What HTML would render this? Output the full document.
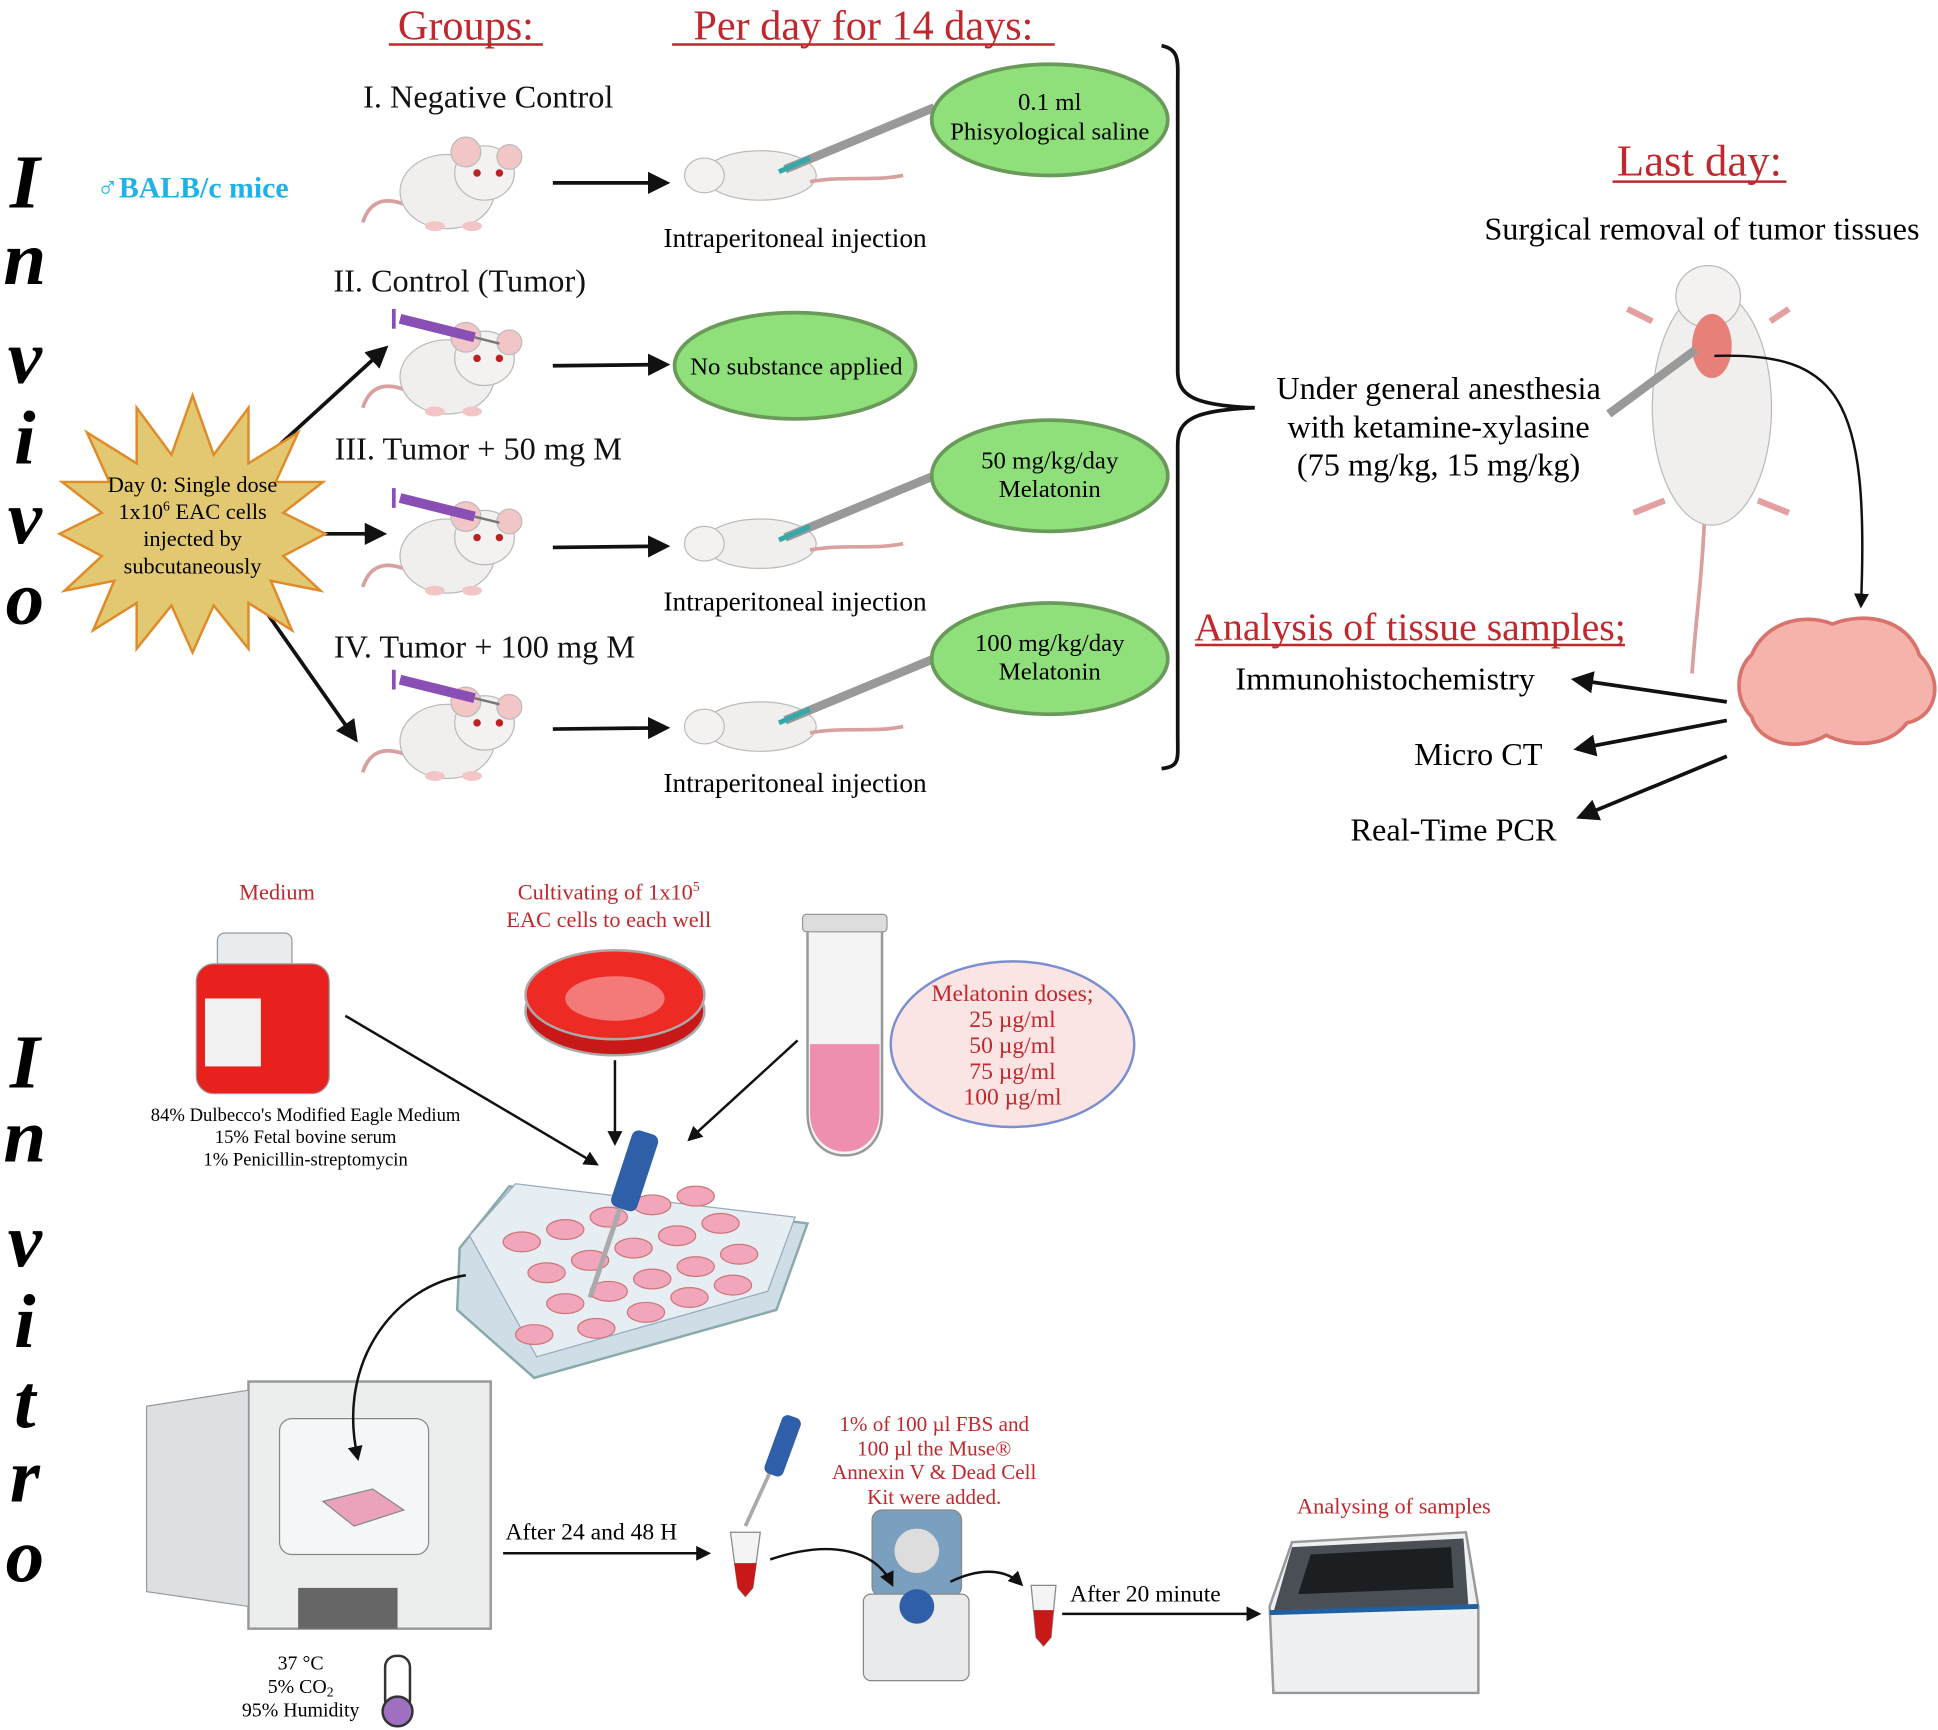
<!DOCTYPE html>
<html><head><meta charset="utf-8"><style>
html,body{margin:0;padding:0;background:#fff;}
svg{display:block;}
text{font-family:"Liberation Serif",serif;}
</style></head><body>
<svg width="1938" height="1730" viewBox="0 0 1560 1400" preserveAspectRatio="none" xmlns="http://www.w3.org/2000/svg">
<defs>
<marker id="ah" viewBox="0 0 10 10" refX="8" refY="5" markerWidth="6" markerHeight="6" orient="auto"><path d="M0,0 L10,5 L0,10 z" fill="#111"/></marker>
<g id="mouse">
<path d="M-68,35 C-60,10 -40,18 -30,22" stroke="#d9a0a0" stroke-width="3" fill="none"/>
<ellipse cx="0" cy="10" rx="38" ry="30" fill="#f1eeee" stroke="#bbb"/>
<ellipse cx="30" cy="-5" rx="24" ry="22" fill="#f4f1f1" stroke="#bbb"/>
<circle cx="15" cy="-22" r="12" fill="#f2c6c6" stroke="#bbb"/>
<circle cx="50" cy="-18" r="10" fill="#f2c6c6" stroke="#bbb"/>
<circle cx="24" cy="-5" r="3" fill="#b22"/><circle cx="42" cy="-5" r="3" fill="#b22"/>
<ellipse cx="-10" cy="38" rx="8" ry="4" fill="#f2c6c6"/><ellipse cx="20" cy="38" rx="8" ry="4" fill="#f2c6c6"/>
</g>
<g id="lying">
<ellipse cx="0" cy="0" rx="45" ry="20" fill="#f1eeee" stroke="#bbb"/>
<ellipse cx="-45" cy="0" rx="16" ry="14" fill="#f4f1f1" stroke="#bbb"/>
<path d="M40,5 C70,0 90,5 115,0" stroke="#d9a0a0" stroke-width="3" fill="none"/>
<line x1="20" y1="-5" x2="140" y2="-55" stroke="#999" stroke-width="7"/>
<line x1="15" y1="-3" x2="40" y2="-14" stroke="#3aa" stroke-width="4"/>
</g>
<g id="syr">
<line x1="0" y1="0" x2="60" y2="15" stroke="#8a4fb5" stroke-width="8"/>
<line x1="-5" y1="-8" x2="-5" y2="8" stroke="#8a4fb5" stroke-width="3"/>
<line x1="60" y1="15" x2="80" y2="20" stroke="#777" stroke-width="2"/>
</g>
</defs>

<text x="375" y="32" font-size="34" fill="#c0282d" text-anchor="middle">Groups:</text>
<line x1="313" y1="36" x2="437" y2="36" stroke="#c0282d" stroke-width="2"/>
<text x="695" y="32" font-size="34" fill="#c0282d" text-anchor="middle">Per day for 14 days:</text>
<line x1="541" y1="36" x2="849" y2="36" stroke="#c0282d" stroke-width="2"/>

<g font-size="62" font-weight="bold" font-style="italic" text-anchor="middle">
<text x="20" y="168">I</text><text x="20" y="230">n</text><text x="20" y="310">v</text><text x="20" y="375">i</text><text x="20" y="440">v</text><text x="20" y="505">o</text>
<text x="20" y="880">I</text><text x="20" y="940">n</text><text x="20" y="1025">v</text><text x="20" y="1090">i</text><text x="20" y="1155">t</text><text x="20" y="1215">r</text><text x="20" y="1280">o</text>
</g>
<text x="155" y="160" font-size="24" font-weight="bold" fill="#1fb2e8" text-anchor="middle">♂BALB/c mice</text>

<g font-size="26" text-anchor="middle" fill="#111">
<text x="393" y="87">I. Negative Control</text>
<text x="370" y="236">II. Control (Tumor)</text>
<text x="385" y="372">III. Tumor + 50 mg M</text>
<text x="390" y="532">IV. Tumor + 100 mg M</text>
</g>

<use href="#mouse" x="360" y="145"/>
<use href="#mouse" x="360" y="295"/>
<use href="#mouse" x="360" y="440"/>
<use href="#mouse" x="360" y="590"/>
<use href="#syr" x="322" y="258"/>
<use href="#syr" x="322" y="403"/>
<use href="#syr" x="322" y="550"/>

<g stroke="#111" stroke-width="3" marker-end="url(#ah)">
<line x1="445" y1="148" x2="536" y2="148"/>
<line x1="445" y1="296" x2="536" y2="295"/>
<line x1="445" y1="443" x2="536" y2="442"/>
<line x1="445" y1="590" x2="536" y2="589"/>
<line x1="225" y1="360" x2="310" y2="282"/>
<line x1="240" y1="432" x2="308" y2="432"/>
<line x1="212" y1="492" x2="286" y2="598"/>
</g>

<use href="#lying" x="612" y="142"/>
<use href="#lying" x="612" y="440"/>
<use href="#lying" x="612" y="588"/>

<g font-size="22" text-anchor="middle">
<text x="640" y="200">Intraperitoneal injection</text>
<text x="640" y="494">Intraperitoneal injection</text>
<text x="640" y="641">Intraperitoneal injection</text>
</g>

<g fill="#8fe07a" stroke="#6a9a5a" stroke-width="3">
<ellipse cx="845" cy="97" rx="95" ry="45"/>
<ellipse cx="640" cy="296" rx="97" ry="43"/>
<ellipse cx="845" cy="385" rx="95" ry="45"/>
<ellipse cx="845" cy="533" rx="95" ry="45"/>
</g>
<g font-size="20" text-anchor="middle">
<text x="845" y="89">0.1 ml</text><text x="845" y="113">Phisyological saline</text>
<text x="641" y="303">No substance applied</text>
<text x="845" y="379">50 mg/kg/day</text><text x="845" y="402">Melatonin</text>
<text x="845" y="527">100 mg/kg/day</text><text x="845" y="550">Melatonin</text>
</g>

<polygon fill="#e2c870" stroke="#e08a2a" stroke-width="2" points="
155,320 172,368 200,330 200,375 240,350 222,390 260,390 228,415 262,432 228,450 258,478 218,470 235,510 200,488 200,525 172,490 155,528 138,490 110,525 110,488 75,510 92,470 52,478 82,450 48,432 82,415 50,390 88,390 70,350 110,375 110,330 138,368"/>
<g font-size="18" text-anchor="middle">
<text x="155" y="398">Day 0: Single dose</text>
<text x="155" y="420">1x10<tspan font-size="11" dy="-7">6</tspan><tspan dy="7"> EAC cells</tspan></text>
<text x="155" y="442">injected by</text>
<text x="155" y="464">subcutaneously</text>
</g>

<path d="M935,37 C950,40 948,50 948,70 L948,300 C948,320 960,328 1010,330 C960,332 948,340 948,360 L948,595 C948,615 950,620 935,622" stroke="#111" stroke-width="3" fill="none"/>

<text x="1368" y="142" font-size="36" fill="#c0282d" text-anchor="middle">Last day:</text>
<line x1="1298" y1="147" x2="1438" y2="147" stroke="#c0282d" stroke-width="2"/>
<g font-size="26" text-anchor="middle">
<text x="1370" y="194">Surgical removal of tumor tissues</text>
<text x="1158" y="323">Under general anesthesia</text>
<text x="1158" y="354">with ketamine-xylasine</text>
<text x="1158" y="385">(75 mg/kg, 15 mg/kg)</text>
</g>

<path d="M1372,420 C1370,470 1365,500 1362,545" stroke="#d9a0a0" stroke-width="3" fill="none"/>
<ellipse cx="1378" cy="330" rx="48" ry="95" fill="#f1eeee" stroke="#bbb"/>
<ellipse cx="1375" cy="240" rx="26" ry="25" fill="#f4f1f1" stroke="#bbb"/>
<ellipse cx="1378" cy="280" rx="16" ry="26" fill="#e8807a"/>
<path d="M1330,260 L1310,250 M1425,260 L1440,250 M1340,405 L1315,415 M1415,405 L1440,415" stroke="#e4a0a0" stroke-width="5"/>
<line x1="1295" y1="335" x2="1365" y2="283" stroke="#999" stroke-width="7"/>
<path d="M1380,288 C1480,285 1505,320 1498,490" stroke="#111" stroke-width="2" fill="none" marker-end="url(#ah)"/>

<path d="M1410,530 C1420,505 1450,495 1475,505 C1500,495 1535,500 1545,530 C1565,550 1560,580 1535,585 C1520,605 1490,605 1470,595 C1445,610 1415,600 1410,580 C1395,565 1398,540 1410,530 Z" fill="#f5b3ac" stroke="#d9746c" stroke-width="3"/>

<text x="1135" y="518" font-size="32" fill="#c0282d" text-anchor="middle">Analysis of tissue samples;</text>
<line x1="962" y1="522" x2="1308" y2="522" stroke="#c0282d" stroke-width="2"/>
<g font-size="26" text-anchor="middle">
<text x="1115" y="558">Immunohistochemistry</text>
<text x="1190" y="619">Micro CT</text>
<text x="1170" y="680">Real-Time PCR</text>
</g>
<g stroke="#111" stroke-width="3" marker-end="url(#ah)">
<line x1="1390" y1="568" x2="1268" y2="550"/>
<line x1="1390" y1="583" x2="1270" y2="606"/>
<line x1="1390" y1="612" x2="1272" y2="661"/>
</g>

<g fill="#c0282d" font-size="18" text-anchor="middle">
<text x="223" y="728">Medium</text>
<text x="490" y="728">Cultivating of 1x10<tspan font-size="11" dy="-7">5</tspan></text>
<text x="490" y="750">EAC cells to each well</text>
<text x="1122" y="1225">Analysing of samples</text>
</g>
<rect x="175" y="755" width="60" height="30" rx="6" fill="#e8ecef" stroke="#999"/>
<rect x="158" y="780" width="107" height="105" rx="14" fill="#e8201e" stroke="#999"/>
<rect x="165" y="808" width="45" height="55" fill="#f2f2f2"/>
<g font-size="15" text-anchor="middle">
<text x="246" y="907">84% Dulbecco's Modified Eagle Medium</text>
<text x="246" y="925">15% Fetal bovine serum</text>
<text x="246" y="943">1% Penicillin-streptomycin</text>
</g>
<ellipse cx="495" cy="818" rx="72" ry="36" fill="#c81818" stroke="#aaa" stroke-width="2"/>
<ellipse cx="495" cy="805" rx="72" ry="36" fill="#ee2a24" stroke="#aaa" stroke-width="2"/>
<ellipse cx="495" cy="808" rx="40" ry="18" fill="#f47a7a"/>
<path d="M650,750 L710,750 L710,900 C710,925 695,935 680,935 C665,935 650,925 650,900 Z" fill="#f4f4f4" stroke="#999" stroke-width="2"/>
<path d="M652,845 L708,845 L708,900 C708,920 695,932 680,932 C665,932 652,920 652,900 Z" fill="#ee8fb0"/>
<rect x="646" y="740" width="68" height="14" rx="3" fill="#ddd" stroke="#999"/>
<ellipse cx="815" cy="845" rx="98" ry="67" fill="#fbe4e4" stroke="#7b8fd0" stroke-width="2"/>
<g fill="#c0282d" font-size="19" text-anchor="middle">
<text x="815" y="810">Melatonin doses;</text>
<text x="815" y="831">25 µg/ml</text>
<text x="815" y="852">50 µg/ml</text>
<text x="815" y="873">75 µg/ml</text>
<text x="815" y="894">100 µg/ml</text>
</g>
<g stroke="#111" stroke-width="2" marker-end="url(#ah)">
<line x1="278" y1="822" x2="480" y2="942"/>
<line x1="495" y1="858" x2="495" y2="925"/>
<line x1="642" y1="842" x2="555" y2="922"/>
</g>
<polygon points="370,1010 410,960 650,990 625,1060 430,1115 368,1060" fill="#cfdde6" stroke="#8aa" stroke-width="2"/>
<polygon points="378,1000 415,958 640,985 618,1045 432,1098" fill="#e6eef3" stroke="#9ab"/>
<g fill="#f2a6bb" stroke="#c77">
<ellipse cx="420" cy="1005" rx="15" ry="8"/><ellipse cx="455" cy="995" rx="15" ry="8"/><ellipse cx="490" cy="985" rx="15" ry="8"/><ellipse cx="525" cy="975" rx="15" ry="8"/><ellipse cx="560" cy="968" rx="15" ry="8"/>
<ellipse cx="440" cy="1030" rx="15" ry="8"/><ellipse cx="475" cy="1020" rx="15" ry="8"/><ellipse cx="510" cy="1010" rx="15" ry="8"/><ellipse cx="545" cy="1000" rx="15" ry="8"/><ellipse cx="580" cy="990" rx="15" ry="8"/>
<ellipse cx="455" cy="1055" rx="15" ry="8"/><ellipse cx="490" cy="1045" rx="15" ry="8"/><ellipse cx="525" cy="1035" rx="15" ry="8"/><ellipse cx="560" cy="1025" rx="15" ry="8"/><ellipse cx="595" cy="1015" rx="15" ry="8"/>
<ellipse cx="430" cy="1080" rx="15" ry="8"/><ellipse cx="480" cy="1075" rx="15" ry="8"/><ellipse cx="520" cy="1062" rx="15" ry="8"/><ellipse cx="555" cy="1050" rx="15" ry="8"/><ellipse cx="590" cy="1040" rx="15" ry="8"/>
</g>
<line x1="475" y1="1050" x2="505" y2="960" stroke="#aaa" stroke-width="4"/>
<rect x="500" y="915" width="22" height="65" rx="6" fill="#2f5fa8" transform="rotate(18 511 947)"/>
<rect x="200" y="1118" width="195" height="200" fill="#eceeee" stroke="#999" stroke-width="2"/>
<polygon points="118,1138 200,1125 200,1300 118,1288" fill="#dde0e2" stroke="#999"/>
<rect x="225" y="1148" width="120" height="110" rx="10" fill="#f4f6f7" stroke="#888"/>
<polygon points="260,1215 300,1205 325,1222 285,1235" fill="#eaa3bb" stroke="#888"/>
<rect x="240" y="1285" width="80" height="33" fill="#666"/>
<path d="M375,1032 C320,1040 270,1100 288,1180" stroke="#111" stroke-width="2" fill="none" marker-end="url(#ah)"/>
<rect x="310" y="1340" width="20" height="45" rx="9" fill="#fff" stroke="#333" stroke-width="2"/>
<circle cx="320" cy="1385" r="12" fill="#a070c0" stroke="#333" stroke-width="2"/>
<g font-size="16" text-anchor="middle">
<text x="242" y="1351">37 °C</text>
<text x="242" y="1370">5% CO<tspan font-size="11" dy="3">2</tspan></text>
<text x="242" y="1389">95% Humidity</text>
</g>
<text x="476" y="1246" font-size="19" text-anchor="middle">After 24 and 48 H</text>
<line x1="405" y1="1257" x2="570" y2="1257" stroke="#111" stroke-width="2" marker-end="url(#ah)"/>
<path d="M588,1240 L612,1240 L606,1285 L600,1292 L594,1285 Z" fill="#f4f4f4" stroke="#888"/>
<path d="M591,1265 L609,1265 L606,1285 L600,1292 L594,1285 Z" fill="#c81818"/>
<line x1="600" y1="1235" x2="625" y2="1180" stroke="#aaa" stroke-width="3"/>
<rect x="622" y="1145" width="16" height="50" rx="5" fill="#2f5fa8" transform="rotate(20 630 1170)"/>
<g fill="#c0282d" font-size="17" text-anchor="middle">
<text x="752" y="1158">1% of 100 µl FBS and</text>
<text x="752" y="1178">100 µl the Muse®</text>
<text x="752" y="1197">Annexin V &amp; Dead Cell</text>
<text x="752" y="1217">Kit were added.</text>
</g>
<rect x="702" y="1222" width="72" height="70" rx="8" fill="#7a9fbf" stroke="#888"/>
<circle cx="738" cy="1255" r="18" fill="#ddd"/>
<rect x="695" y="1290" width="85" height="70" rx="6" fill="#e8eaec" stroke="#888"/>
<circle cx="738" cy="1300" r="14" fill="#2f5fa8"/>
<path d="M620,1262 C670,1245 705,1255 718,1282" stroke="#111" stroke-width="2" fill="none" marker-end="url(#ah)"/>
<path d="M765,1280 C790,1268 810,1270 822,1282" stroke="#111" stroke-width="2" fill="none" marker-end="url(#ah)"/>
<path d="M830,1283 L850,1283 L846,1325 L840,1332 L834,1325 Z" fill="#f4f4f4" stroke="#888"/>
<path d="M832,1303 L848,1303 L846,1325 L840,1332 L834,1325 Z" fill="#c81818"/>
<text x="922" y="1296" font-size="19" text-anchor="middle">After 20 minute</text>
<line x1="855" y1="1306" x2="1013" y2="1306" stroke="#111" stroke-width="2" marker-end="url(#ah)"/>
<path d="M1022,1300 L1040,1248 L1180,1240 L1190,1300 L1190,1370 L1025,1370 Z" fill="#eef0f2" stroke="#999" stroke-width="2"/>
<polygon points="1040,1252 1178,1245 1182,1300 1025,1305" fill="#4a4f55"/>
<polygon points="1055,1258 1168,1252 1170,1285 1045,1290" fill="#1c1f22"/>
<line x1="1022" y1="1305" x2="1190" y2="1300" stroke="#2060a0" stroke-width="4"/>
</svg>
</body></html>
